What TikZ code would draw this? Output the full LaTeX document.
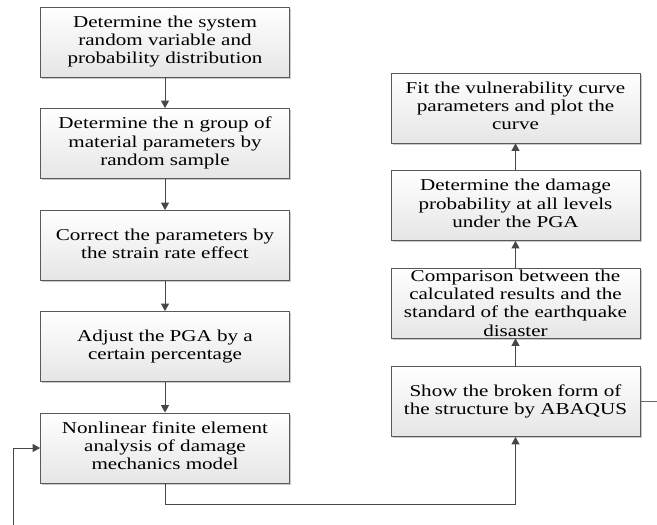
\documentclass[tikz,border=0pt]{standalone}
\usepackage{fontspec}
\usepackage{graphicx}
\setmainfont{Liberation Serif}
\usetikzlibrary{arrows.meta,shadows}
\newcommand\bt[1]{\scalebox{1.27}[1]{\fontsize{16.6}{18.3}\selectfont\begin{tabular}{@{}c@{}}#1\end{tabular}}}
\tikzset{
  box/.style={rectangle, draw=black!65, line width=0.8pt, top color=white, bottom color=black!10,
    minimum width=249pt, minimum height=70pt, inner sep=0pt,
    drop shadow={opacity=0.35, shadow xshift=1.6pt, shadow yshift=-1.6pt, fill=black!60}},
  txt/.style={inner sep=0pt},
  arr/.style={draw=black!72, line width=0.95pt, -{Triangle[length=7.5pt,width=8pt]}},
  ln/.style={draw=black!60, line width=0.95pt}
}
\begin{document}
\begin{tikzpicture}[x=1pt,y=-1pt]
\useasboundingbox (0,0) rectangle (657,525);
% left column
\node[box] (b1) at (165,42) {\bt{Determine the system\\random variable and\\probability distribution}};
\node[box] (b2) at (165,143.5) {\bt{Determine the n group of\\material parameters by\\random sample}};
\node[box] (b3) at (165,245.5) {\bt{Correct the parameters by\\the strain rate effect}};
\node[box] (b4) at (165,346.5) {\bt{Adjust the PGA by a\\certain percentage}};
\node[box] (b5) at (165,448) {\bt{Nonlinear finite element\\analysis of damage\\mechanics model}};
% right column
\node[box] (r1) at (515.5,108) {\bt{Fit the vulnerability curve\\parameters and plot the\\curve}};
\node[box] (r2) at (515.5,205.5) {\bt{Determine the damage\\probability at all levels\\under the PGA}};
\node[box] (r3) at (515.5,303) {};
\node[txt] (r3t) at (515.5,305) {\bt{Comparison between the\\calculated results and the\\standard of the earthquake\\disaster}};
\node[box] (r4) at (515.5,401.5) {\bt{Show the broken form of\\the structure by ABAQUS}};
% connectors
\draw[arr] (b1) -- (b2);
\draw[arr] (b2) -- (b3);
\draw[arr] (b3) -- (b4);
\draw[arr] (b4) -- (b5);
\draw[arr] (b5.south) -- ++(0,21) -| (r4.south);
\draw[arr] (r4) -- (r3);
\draw[arr] (r3) -- (r2);
\draw[arr] (r2) -- (r1);
\coordinate (rend) at (657,401.5);
\draw[ln] (r4.east) -- (rend);
\coordinate (fstart) at (13,525);
\draw[arr] (fstart) |- (b5.west);
\end{tikzpicture}
\end{document}
